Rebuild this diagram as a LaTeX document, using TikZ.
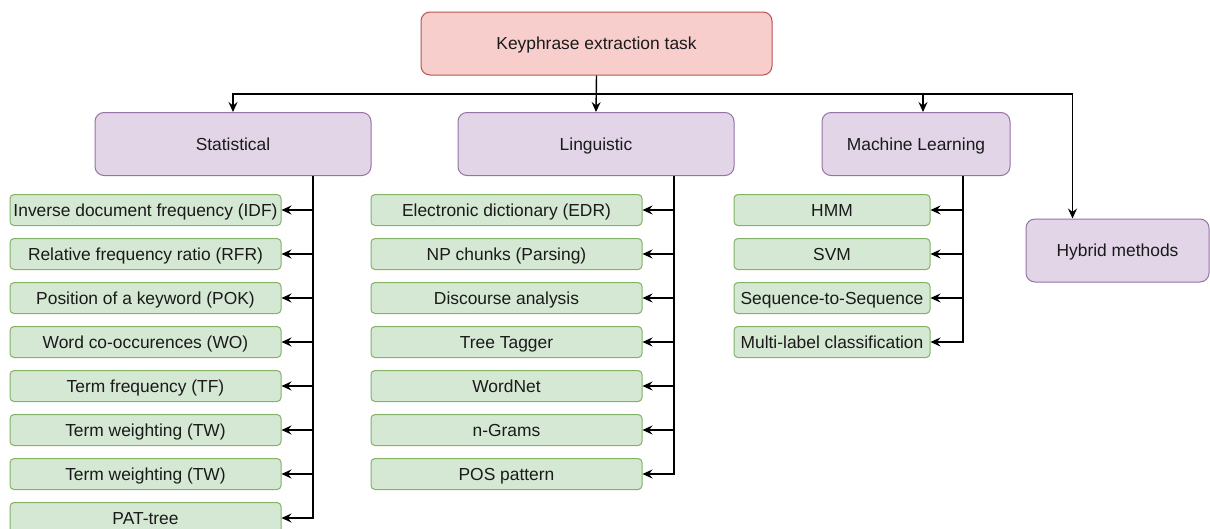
\documentclass[tikz,border=0pt]{standalone}
\usepackage{fontspec}
\setmainfont{Liberation Sans}
\usetikzlibrary{arrows.meta,positioning}
\definecolor{redfill}{HTML}{F8CECC}
\definecolor{redline}{HTML}{B85450}
\definecolor{purfill}{HTML}{E1D5E7}
\definecolor{purline}{HTML}{9673A6}
\definecolor{grefill}{HTML}{D5E8D4}
\definecolor{greline}{HTML}{82B366}
\definecolor{txt}{HTML}{1A1A1A}
\tikzset{
  base/.style={draw, line width=1pt, text=txt, font=\fontsize{17.4}{20}\selectfont, inner sep=0pt, align=center, text height=14.3pt, text depth=1.8pt},
  topbox/.style={base, fill=redfill, draw=redline, rounded corners=9pt, minimum width=351pt, minimum height=63pt},
  catbox/.style={base, fill=purfill, draw=purline, rounded corners=9pt, minimum height=63pt},
  leaf/.style={base, fill=grefill, draw=greline, rounded corners=4pt, minimum height=31pt},
  arr/.style={draw=black, line width=1.4pt, -{Stealth[length=10pt,width=9pt,inset=3.5pt]}},
}
\begin{document}
\begin{tikzpicture}[x=1pt,y=-1pt]
\useasboundingbox[fill=white] (0,0) rectangle (1210,528);
\node[topbox] (top) at (596.5,43.5) {Keyphrase extraction task};
\node[catbox, minimum width=276pt] (stat) at (233,144) {Statistical};
\node[catbox, minimum width=276pt] (ling) at (596,144) {Linguistic};
\node[catbox, minimum width=188pt] (ml) at (916,144) {Machine Learning};
\node[catbox, minimum width=183pt] (hyb) at (1117.5,250.5) {Hybrid methods};
% statistical leaves
\node[leaf, minimum width=271pt] (s1) at (145.5,210) {Inverse document frequency (IDF)};
\node[leaf, minimum width=271pt] (s2) at (145.5,254) {Relative frequency ratio (RFR)};
\node[leaf, minimum width=271pt] (s3) at (145.5,298) {Position of a keyword (POK)};
\node[leaf, minimum width=271pt] (s4) at (145.5,342) {Word co-occurences (WO)};
\node[leaf, minimum width=271pt] (s5) at (145.5,386) {Term frequency (TF)};
\node[leaf, minimum width=271pt] (s6) at (145.5,430) {Term weighting (TW)};
\node[leaf, minimum width=271pt] (s7) at (145.5,474) {Term weighting (TW)};
\node[leaf, minimum width=271pt] (s8) at (145.5,518) {PAT-tree};
% linguistic leaves
\node[leaf, minimum width=271pt] (l1) at (506.5,210) {Electronic dictionary (EDR)};
\node[leaf, minimum width=271pt] (l2) at (506.5,254) {NP chunks (Parsing)};
\node[leaf, minimum width=271pt] (l3) at (506.5,298) {Discourse analysis};
\node[leaf, minimum width=271pt] (l4) at (506.5,342) {Tree Tagger};
\node[leaf, minimum width=271pt] (l5) at (506.5,386) {WordNet};
\node[leaf, minimum width=271pt] (l6) at (506.5,430) {n-Grams};
\node[leaf, minimum width=271pt] (l7) at (506.5,474) {POS pattern};
% ML leaves
\node[leaf, minimum width=196pt] (m1) at (832,210) {HMM};
\node[leaf, minimum width=196pt] (m2) at (832,254) {SVM};
\node[leaf, minimum width=196pt] (m3) at (832,298) {Sequence-to-Sequence};
\node[leaf, minimum width=196pt] (m4) at (832,342) {Multi-label classification};
% top connectors
\coordinate (j) at (596.5,94);
\draw[arr] (top.south) -- (ling.north);
\draw[arr] (j) -| (stat.north);
\draw[arr] (j) -| ([xshift=7pt]ml.north);
\draw[arr] (j) -| ([xshift=47pt]hyb.north west);
% branch connectors
\foreach \n in {s1,s2,s3,s4,s5,s6,s7,s8}
  \draw[arr] ([xshift=80pt]stat.south) |- (\n.east);
\foreach \n in {l1,l2,l3,l4,l5,l6,l7}
  \draw[arr] ([xshift=78pt]ling.south) |- (\n.east);
\foreach \n in {m1,m2,m3,m4}
  \draw[arr] ([xshift=47pt]ml.south) |- (\n.east);
\end{tikzpicture}
\end{document}
